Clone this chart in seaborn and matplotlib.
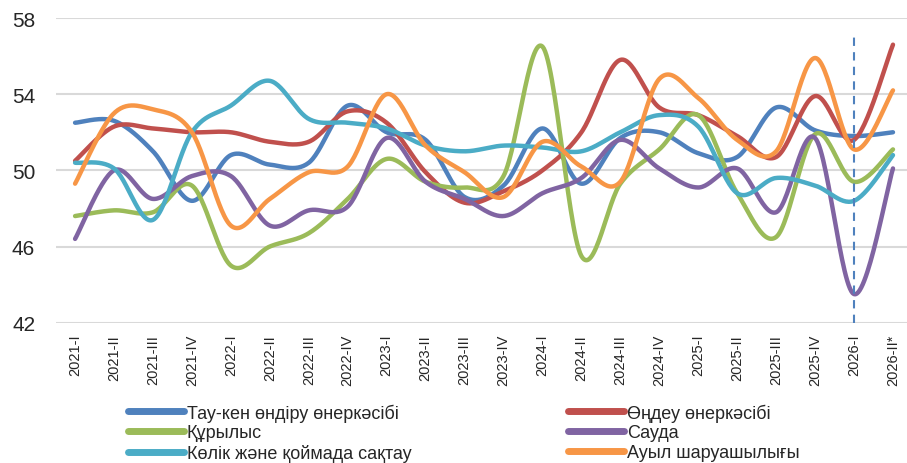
import numpy as np
import pandas as pd
import matplotlib
matplotlib.use("Agg")
import matplotlib.pyplot as plt
import seaborn as sns

# === Data ===
periods = ["2021-I", "2021-II", "2021-III", "2021-IV", "2022-I", "2022-II", "2022-III", "2022-IV",
           "2023-I", "2023-II", "2023-III", "2023-IV", "2024-I", "2024-II", "2024-III", "2024-IV",
           "2025-I", "2025-II", "2025-III", "2025-IV", "2026-I", "2026-II*"]

mining = [52.5, 52.6, 51.0, 48.4, 50.8, 50.3, 50.4, 53.4, 52.0, 51.6, 48.6, 49.2,
          52.2, 49.3, 51.7, 52.0, 50.9, 50.7, 53.3, 52.1, 51.8, 52.0]
manufacturing = [50.5, 52.3, 52.2, 52.0, 52.0, 51.5, 51.5, 53.1, 52.5, 49.9, 48.3, 48.9,
                 50.0, 52.0, 55.8, 53.3, 52.9, 51.8, 50.7, 53.9, 51.6, 56.6]
construction = [47.6, 47.9, 47.8, 49.2, 45.0, 46.0, 46.7, 48.5, 50.6, 49.4, 49.1, 49.7,
                56.5, 45.5, 49.3, 51.1, 52.9, 48.8, 46.5, 51.9, 49.4, 51.1]
trade = [46.4, 50.0, 48.5, 49.7, 49.7, 47.1, 47.9, 48.1, 51.7, 49.4, 48.5, 47.6,
         48.8, 49.6, 51.6, 50.1, 49.1, 50.1, 47.8, 51.7, 43.5, 50.1]
transport = [50.4, 50.1, 47.4, 52.0, 53.4, 54.7, 52.7, 52.5, 52.2, 51.3, 51.0, 51.3,
             51.2, 51.0, 52.0, 52.9, 52.3, 48.8, 49.6, 49.2, 48.4, 50.8]
agriculture = [49.3, 53.0, 53.2, 52.0, 47.1, 48.5, 49.9, 50.2, 54.0, 51.3, 49.9, 48.6,
               51.5, 50.2, 49.4, 54.8, 53.8, 51.6, 51.0, 55.9, 51.1, 54.2]

series_names = ["Тау-кен өндіру өнеркәсібі", "Өңдеу өнеркәсібі", "Құрылыс",
                "Сауда", "Көлік және қоймада сақтау", "Ауыл шаруашылығы"]
series_values = [mining, manufacturing, construction, trade, transport, agriculture]
colors = ["#4F81BD", "#C0504D", "#9BBB59", "#8064A2", "#4BACC6", "#F79646"]
marker_period = "2026-I"


def smooth(x, y, n=30):
    # Excel-like smoothed line: cubic bezier through points (Catmull-Rom tangents)
    pts = np.column_stack([x, y]).astype(float)
    pts = np.vstack([pts[0], pts, pts[-1]])
    out = []
    t = np.linspace(0, 1, n)[:, None]
    for k in range(1, len(pts) - 2):
        p0, p1, p2, p3 = pts[k - 1], pts[k], pts[k + 1], pts[k + 2]
        c1 = p1 + (p2 - p0) / 6
        c2 = p2 - (p3 - p1) / 6
        seg = ((1 - t) ** 3) * p1 + 3 * ((1 - t) ** 2) * t * c1 + 3 * (1 - t) * t ** 2 * c2 + t ** 3 * p2
        out.append(seg if k == 1 else seg[1:])
    out = np.vstack(out)
    return out[:, 0], out[:, 1]


frames = []
xs = np.arange(len(periods))
for name, vals in zip(series_names, series_values):
    sx, sy = smooth(xs, vals)
    frames.append(pd.DataFrame({"x": sx, "y": sy, "series": name}))
df = pd.concat(frames, ignore_index=True)

# === Plot ===
sns.set_theme(style="white")
plt.rcParams["font.family"] = ["Liberation Sans", "DejaVu Sans"]

fig = plt.figure(figsize=(9.07, 4.64), dpi=100)
ax = fig.add_axes([56 / 907, 1 - 323.7 / 464, 1 - 56 / 907, (323.7 - 19) / 464])

sns.lineplot(data=df, x="x", y="y", hue="series", hue_order=series_names,
             palette=colors, sort=False, estimator=None,
             linewidth=3.2, ax=ax, legend=False)

ax.set_ylim(42, 58)
ax.set_yticks([42, 46, 50, 54, 58])
ax.set_xlim(-0.49, 21.36)
ax.set_xticks(xs)
ax.set_xticklabels(periods, rotation=90, fontsize=10.5)
ax.tick_params(axis="y", labelsize=15, length=0, pad=15)
ax.tick_params(axis="x", length=0, pad=8)
ax.set_xlabel("")
ax.set_ylabel("")
ax.yaxis.grid(True, color="#d9d9d9", linewidth=1.5)
ax.set_axisbelow(True)
for s in ax.spines.values():
    s.set_visible(False)

# dashed forecast marker
ax.vlines(periods.index(marker_period), 42, 57.05, colors="#4F81BD", linestyles=(0, (4, 3)), linewidth=1.5)

# legend, Excel fills rows left-to-right
handles = [plt.Line2D([], [], color=c, linewidth=5) for c in colors]
order = [0, 2, 4, 1, 3, 5]
fig.legend([handles[i] for i in order], [series_names[i] for i in order],
           ncol=2, loc="lower left", bbox_to_anchor=(128 / 907, 1 / 464), frameon=False,
           prop={"size": 13},
           handlelength=3.1, handletextpad=0.15, columnspacing=8.7, labelspacing=0.15,
           borderaxespad=0, borderpad=0)

fig.savefig("out.png", dpi=100)
